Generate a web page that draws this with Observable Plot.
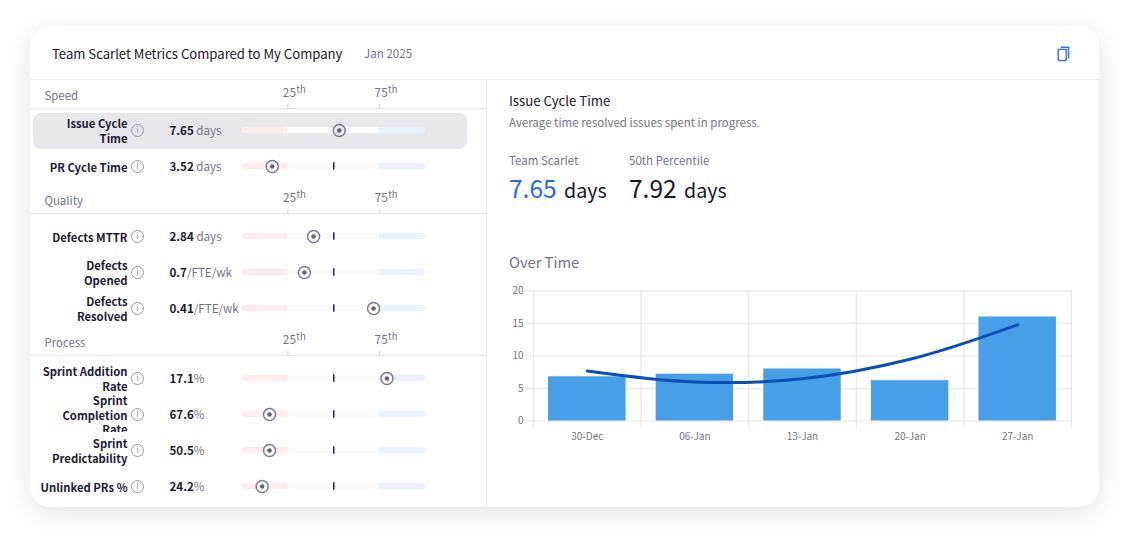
<!DOCTYPE html>
<html><head><meta charset="utf-8">
<script src="https://cdn.jsdelivr.net/npm/d3@7"></script>
<script src="https://cdn.jsdelivr.net/npm/@observablehq/plot@0.6"></script>
<style>
html,body{margin:0;padding:0;background:#fff}
body{width:1129px;height:542px;position:relative;overflow:hidden;font-family:"Noto Sans CJK SC","Noto Sans",sans-serif;color:#17162e}
.card{position:absolute;left:30px;top:26px;width:1069px;height:481px;background:#fff;border-radius:20px;box-shadow:0 6px 26px rgba(40,40,70,.13)}
.abs{position:absolute;white-space:nowrap;line-height:1}
.muted{color:#74728c}
.hline{position:absolute;left:30px;top:79px;width:1069px;height:1px;background:#ebebee}
.vline{position:absolute;left:486px;top:80px;width:1px;height:427px;background:#ebebee}
.hl{position:absolute;left:33px;top:113px;width:434px;height:36px;background:#e7e7ec;border-radius:8px}
.plot{position:absolute}
.plot svg{display:block}
</style></head><body>
<div class="card"></div><div class="hline"></div><div class="vline"></div><div class="hl"></div>
<div class="abs" style="left:52px;top:47px;font-size:13.1px">Team Scarlet Metrics Compared to My Company</div>
<div class="abs muted" style="left:364px;top:48px;font-size:11.6px">Jan 2025</div>
<svg class="abs" style="left:1056px;top:46px" width="15" height="16" viewBox="0 0 15 16" fill="none" stroke="#2f6fe6" stroke-width="1.4"><path d="M5 1.2h7.6v11.4"/><path d="M2.2 3.4h8v10.2l-1 1H3.2l-1-1z"/></svg>
<div class="abs" style="left:509px;top:94px;font-size:13.2px">Issue Cycle Time</div>
<div class="abs muted" style="left:509px;top:117px;font-size:11.5px">Average time resolved issues spent in progress.</div>
<div class="abs muted" style="left:509px;top:155px;font-size:11.5px">Team Scarlet</div>
<div class="abs muted" style="left:629px;top:155px;font-size:11.5px">50th Percentile</div>
<div class="abs" style="left:509px;top:176px;font-size:19.6px"><span style="font-size:24.5px;color:#2a6ae8;margin-right:3px">7.65</span> days</div>
<div class="abs" style="left:629px;top:176px;font-size:19.6px"><span style="font-size:24.5px;margin-right:3px">7.92</span> days</div>
<div class="abs muted" style="left:509px;top:255px;font-size:14.7px">Over Time</div>
<div id="left"></div><div id="chart" class="plot" style="left:500px;top:280px"></div>
<script>
const FONT = '"Noto Sans CJK SC","Noto Sans",sans-serif';
const sectionNames = ["Speed", "Quality", "Process"];
const sectionSizes = [2, 3, 4];
const metricLabels = ["Issue Cycle\nTime", "PR Cycle Time", "Defects MTTR", "Defects\nOpened", "Defects\nResolved", "Sprint Addition\nRate", "Sprint\nCompletion\nRate", "Sprint\nPredictability", "Unlinked PRs %"];
const metricValues = ["7.65", "3.52", "2.84", "0.7", "0.41", "17.1", "67.6", "50.5", "24.2"];
const metricUnits = [" days", " days", " days", "/FTE/wk", "/FTE/wk", "%", "%", "%", "%"];
const metricPercentiles = [53, 16.5, 39, 34, 71.7, 79, 15, 15, 11];
const selectedMetric = "Issue Cycle\nTime";
const percentileTicks = [25, 75];
const medianPercentile = 50;

const weeks = ["30-Dec", "06-Jan", "13-Jan", "20-Jan", "27-Jan"];
const weeklyBars = [6.8, 7.2, 8, 6.2, 16];
const weeklyTrend = [7.7, 6, 6.5, 9.5, 14.8];
const yTicks = [0, 5, 10, 15, 20];

const rows = metricLabels.map((label, i) => ({label, value: metricValues[i], unit: metricUnits[i], pct: metricPercentiles[i], selected: label === selectedMetric}));

function sectionPlot(name, sectionRows, lineY) {
  const M = 38, inset = 3.7, step = 36.6, barInset = 14.8;
  const ink = "#1b1a33", grey = "#74728c";
  const el = Plot.plot({
    width: 456, height: M + inset + sectionRows.length * step,
    marginLeft: 0, marginRight: 0, marginTop: M, marginBottom: 0,
    style: {background: "transparent", fontFamily: FONT, overflow: "visible"},
    x: {domain: [0, 100], range: [211.5, 395], label: null},
    y: {type: "band", domain: sectionRows.map(d => d.label), padding: 0, insetTop: inset, axis: null},
    color: {type: "identity"},
    marks: [
      Plot.frame({anchor: "top", stroke: "#e6e6ea", strokeWidth: 1.2}),
      Plot.axisX(percentileTicks, {anchor: "top", tickSize: 5, text: null, label: null, stroke: "#dcdce2", strokeWidth: 1.2}),
      Plot.text([name], {frameAnchor: "top-left", dx: 14, dy: -17, fontSize: 11.4, fill: grey}),
      Plot.text(percentileTicks, {x: d => d, text: d => String(d), frameAnchor: "top", textAnchor: "start", dx: -5, dy: -20, fontSize: 11.8, fill: grey}),
      Plot.text(percentileTicks, {x: d => d, text: () => "th", frameAnchor: "top", textAnchor: "start", dx: 8.5, dy: -22, fontSize: 9.5, fill: grey}),
      Plot.barX(sectionRows, {x1: () => 0, x2: () => percentileTicks[0] + 2, y: "label", insetTop: barInset, insetBottom: barInset, rx: 3.5, fill: "#fdecec"}),
      Plot.barX(sectionRows, {x1: () => percentileTicks[1] - 2, x2: () => 100, y: "label", insetTop: barInset, insetBottom: barInset, rx: 3.5, fill: "#e9f2fd"}),
      Plot.barX(sectionRows, {x1: () => percentileTicks[0], x2: () => percentileTicks[1], y: "label", insetTop: barInset, insetBottom: barInset, fill: d => d.selected ? "#fff" : "#fbfbfc"}),
      Plot.tickX(sectionRows.filter(d => !d.selected), {x: () => medianPercentile, y: "label", insetTop: 14.3, insetBottom: 14.3, stroke: "#2d2b52", strokeWidth: 1.6}),
      Plot.dot(sectionRows, {x: "pct", y: "label", r: 6, stroke: "#7d7994", strokeWidth: 1.5, fill: d => d.selected ? "#e9e9ee" : "#fff"}),
      Plot.dot(sectionRows, {x: "pct", y: "label", r: 2.3, fill: "#66627f"}),
      Plot.text(sectionRows, {
        text: "label", y: "label", frameAnchor: "left", dx: 97, dy: 0.5, textAnchor: "end", lineHeight: 1.28,
        fontSize: 11.3, fontWeight: 600, fill: ink,
        render(index, s, v, d, c, next) {
          const g = next(index, s, v, d, c);
          d3.select(g).selectAll("text").filter(i => sectionRows[i].label.split("\n").length > 2).style("clip-path", "inset(0 0 5px 0)");
          return g;
        }
      }),
      Plot.dot(sectionRows, {y: "label", frameAnchor: "left", dx: 107, r: 6, stroke: "#9a98b0", strokeWidth: 1, fill: "none"}),
      Plot.text(sectionRows, {y: "label", text: () => "i", frameAnchor: "left", dx: 107, textAnchor: "middle", fontSize: 8.5, fill: "#9a98b0"}),
      Plot.text(sectionRows, {
        text: "value", y: "label", frameAnchor: "left", dx: 139, dy: 1, textAnchor: "start", fontSize: 11.6, fontWeight: 600, fill: ink,
        render(index, s, v, d, c, next) {
          const g = next(index, s, v, d, c);
          d3.select(g).selectAll("text").each(function (i) {
            d3.select(this).append("tspan").attr("font-weight", 400).attr("fill", grey).text(sectionRows[i].unit);
          });
          return g;
        }
      })
    ]
  });
  const wrap = document.createElement("div");
  wrap.className = "plot";
  wrap.style.left = "30px";
  wrap.style.top = (lineY - M) + "px";
  wrap.appendChild(el);
  return wrap;
}
const lineYs = [108, 212.5, 354.7];
let start = 0;
sectionNames.forEach((name, k) => {
  const part = rows.slice(start, start + sectionSizes[k]);
  start += sectionSizes[k];
  document.getElementById("left").appendChild(sectionPlot(name, part, lineYs[k]));
});

const series = weeks.map((week, i) => ({week, bar: weeklyBars[i], trend: weeklyTrend[i]}));
const gridColor = "#e8e8ec", halfStep = 53.8;
document.getElementById("chart").appendChild(Plot.plot({
  width: 600, height: 170, marginLeft: 33, marginRight: 29, marginTop: 10.5, marginBottom: 29.5,
  style: {background: "transparent", fontFamily: FONT, overflow: "visible"},
  x: {type: "band", domain: weeks, paddingInner: 0.28, paddingOuter: 0.14, round: false, label: null},
  y: {domain: [0, 20], label: null},
  marks: [
    Plot.ruleY(yTicks, {y: d => d, stroke: gridColor, strokeWidth: 1.2, insetLeft: -7}),
    Plot.ruleX(weeks, {x: d => d, dx: -halfStep, stroke: gridColor, strokeWidth: 1.2, insetBottom: -7}),
    Plot.ruleX(weeks.slice(-1), {x: d => d, dx: halfStep, stroke: gridColor, strokeWidth: 1.2, insetBottom: -7}),
    Plot.barY(series, {x: "week", y: "bar", fill: "#469fe7"}),
    Plot.line(series, {x: "week", y: "trend", stroke: "#0b4fb4", strokeWidth: 3, curve: "catmull-rom"}),
    Plot.axisY(yTicks, {tickSize: 0, tickPadding: 10, label: null, fontSize: 10, fill: "#74728c"}),
    Plot.axisX({tickSize: 0, tickPadding: 12, label: null, fontSize: 10, fill: "#74728c"})
  ]
}));
</script>
</body></html>
